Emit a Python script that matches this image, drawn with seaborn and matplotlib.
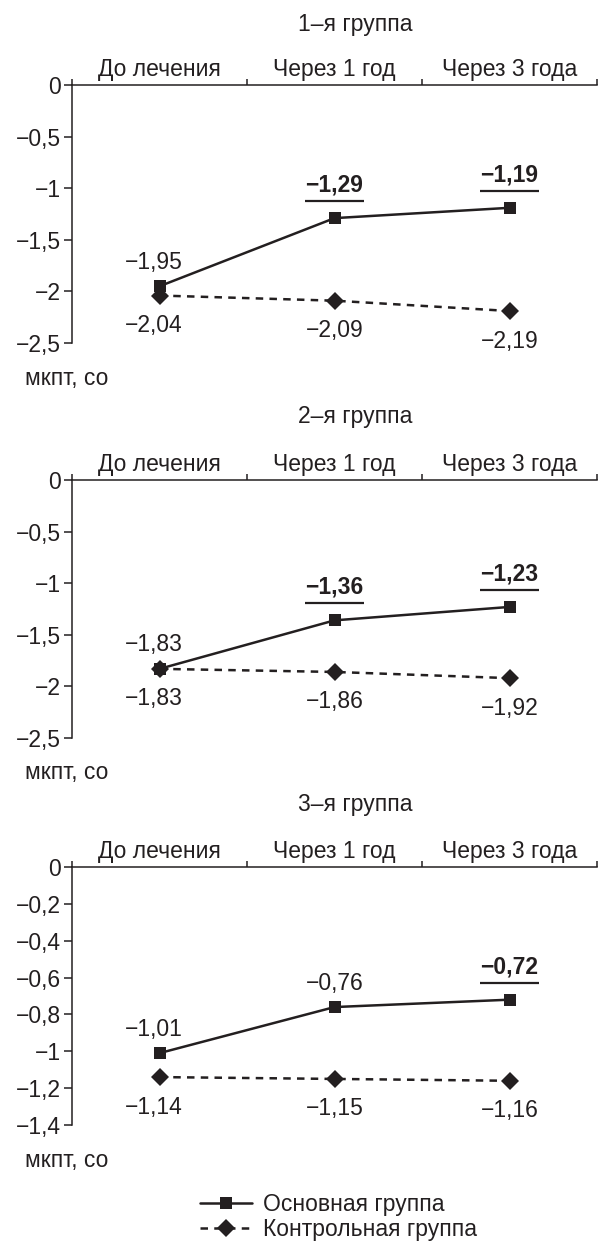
import matplotlib
matplotlib.use("Agg")
import matplotlib.pyplot as plt
from matplotlib.transforms import offset_copy
from matplotlib.lines import Line2D
import seaborn as sns
import pandas as pd

# ---------------- data ----------------
categories = ['До лечения', 'Через 1 год', 'Через 3 года']
group_titles = ['1–я группа', '2–я группа', '3–я группа']
series_names = ['Основная группа', 'Контрольная группа']

main_g1 = [-1.95, -1.29, -1.19]
ctrl_g1 = [-2.04, -2.09, -2.19]
main_g2 = [-1.83, -1.36, -1.23]
ctrl_g2 = [-1.83, -1.86, -1.92]
main_g3 = [-1.01, -0.76, -0.72]
ctrl_g3 = [-1.14, -1.15, -1.16]

bold_g1 = [False, True, True]
bold_g2 = [False, True, True]
bold_g3 = [False, False, True]

yticks_g12 = [0, -0.5, -1, -1.5, -2, -2.5]
yticks_g3 = [0, -0.2, -0.4, -0.6, -0.8, -1, -1.2, -1.4]
ylabel = 'мкпт, со'

panels = [
    (group_titles[0], main_g1, ctrl_g1, bold_g1, yticks_g12),
    (group_titles[1], main_g2, ctrl_g2, bold_g2, yticks_g12),
    (group_titles[2], main_g3, ctrl_g3, bold_g3, yticks_g3),
]

# ---------------- style ----------------
sns.set_theme(style='white')
plt.rcParams['font.family'] = ['Liberation Sans', 'DejaVu Sans']
INK = '#231f20'
FS = 16.5
W, H = 600, 1242
fig = plt.figure(figsize=(W / 100, H / 100), dpi=100)

ax_top_px = [85, 480, 867]
ax_bot_px = [343, 738, 1125]
title_px = [25, 417, 805]
ylab_px = [378, 773, 1160]
left_px, right_px = 72, 597
DASH = (3.0, 2.5)


def fmt(v):
    s = f'{v:.2f}'.replace('.', ',')
    return s.replace('-', '−')


def fmt_tick(v):
    s = f'{v:g}'.replace('.', ',')
    return s.replace('-', '−')


for i, (title, main, ctrl, bold, yt) in enumerate(panels):
    bottom = 1 - ax_bot_px[i] / H
    height = (ax_bot_px[i] - ax_top_px[i]) / H
    ax = fig.add_axes([left_px / W, bottom, (right_px - left_px) / W, height])

    pos = [k + 0.5 for k in range(len(categories))]
    df = pd.DataFrame({
        'x': pos + pos,
        'y': list(main) + list(ctrl),
        's': [series_names[0]] * 3 + [series_names[1]] * 3,
    })
    sns.lineplot(data=df, x='x', y='y', hue='s', style='s', ax=ax,
                 palette={series_names[0]: INK, series_names[1]: INK},
                 markers={series_names[0]: 's', series_names[1]: 'D'},
                 dashes={series_names[0]: '', series_names[1]: DASH},
                 markersize=9.3, markeredgewidth=0, linewidth=1.8,
                 legend=False)

    ax.set_xlim(0, 3)
    ax.set_ylim(yt[-1], 0)
    ax.set_xlabel('')
    ax.set_ylabel('')

    for sp in ['right', 'bottom']:
        ax.spines[sp].set_visible(False)
    for sp in ['left', 'top']:
        ax.spines[sp].set_color(INK)
        ax.spines[sp].set_linewidth(1.1)

    ax.xaxis.tick_top()
    ax.set_xticks([0, 1, 2, 3])
    ax.set_xticklabels([])
    ax.set_xticks(pos, minor=True)
    ax.set_xticklabels(categories, minor=True, fontsize=FS, color=INK)
    ax.tick_params(axis='x', which='major', direction='out', length=4.5,
                   width=1.1, color=INK, top=True, bottom=False)
    ax.tick_params(axis='x', which='minor', length=0, pad=3,
                   top=True, bottom=False, labeltop=True, labelbottom=False)

    ax.set_yticks(yt)
    ax.set_yticklabels([fmt_tick(v) for v in yt], fontsize=FS, color=INK)
    ax.tick_params(axis='y', direction='out', length=6, width=1.1,
                   color=INK, left=True, pad=2)

    for k, (m, c, b) in enumerate(zip(main, ctrl, bold)):
        x = pos[k]
        dx = -6 if k == 0 else 0
        if b:
            ax.annotate(fmt(m), (x, m), xytext=(dx, 33), textcoords='offset pixels',
                        ha='center', va='center', fontsize=FS,
                        fontweight='bold', color=INK)
            tr = offset_copy(ax.transData, fig=fig, x=0, y=17, units='dots')
            ax.plot([x - 0.17, x + 0.17], [m, m], transform=tr, color=INK,
                    lw=1.6, solid_capstyle='butt', clip_on=False)
        else:
            ax.annotate(fmt(m), (x, m), xytext=(dx, 24), textcoords='offset pixels',
                        ha='center', va='center', fontsize=FS, color=INK)
        ax.annotate(fmt(c), (x, c), xytext=(dx, -30), textcoords='offset pixels',
                    ha='center', va='center', fontsize=FS, color=INK)

    fig.text(355 / W, 1 - title_px[i] / H, title, ha='center', va='center',
             fontsize=FS, color=INK)
    fig.text(25 / W, 1 - ylab_px[i] / H, ylabel, ha='left', va='center',
             fontsize=FS, color=INK)

leg_handles = [
    Line2D([], [], color=INK, lw=1.8, marker='s', markersize=9.3,
           markeredgewidth=0),
    Line2D([], [], color=INK, lw=1.8, marker='D', markersize=9.3,
           markeredgewidth=0, dashes=DASH),
]
fig.legend(leg_handles, series_names, loc='center left',
           bbox_to_anchor=(200 / W, 1 - 1217 / H), frameon=False,
           fontsize=FS, handlelength=2.27, handletextpad=0.48,
           labelspacing=0.08, borderpad=0, borderaxespad=0,
           labelcolor=INK)

fig.savefig('out.png', dpi=100)
